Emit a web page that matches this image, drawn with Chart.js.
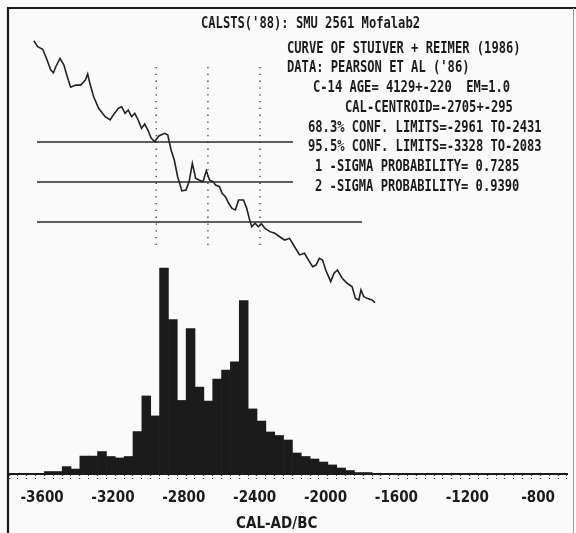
<!DOCTYPE html>
<html><head><meta charset="utf-8">
<script src="https://cdn.jsdelivr.net/npm/chart.js@4.4.1/dist/chart.umd.min.js"></script>
<style>html,body{margin:0;padding:0;background:#fafafa;}canvas{display:block;}</style>
</head><body>
<canvas id="c" width="576" height="533"></canvas>
<script>
// ---- data ----
// calibrated-age histogram (50-year bins, centres in years AD/BC, relative probability, peak = 100)
const binCenters = [-3625,-3575,-3525,-3475,-3425,-3375,-3325,-3275,-3225,-3175,-3125,-3075,-3025,-2975,-2925,-2875,-2825,-2775,-2725,-2675,-2625,-2575,-2525,-2475,-2425,-2375,-2325,-2275,-2225,-2175,-2125,-2075,-2025,-1975,-1925,-1875,-1825,-1775];
const probability = [0.2,1.2,1.2,3.6,2.4,8.7,8.7,10.9,8.5,7.8,8.5,20.6,37.9,28.2,100,75,35.7,70.6,42.2,35.4,46.1,50.5,54.4,84.2,31.6,25.7,20.4,18.7,16.5,10.2,8.5,7.3,5.8,4.4,2.9,1.7,0.7,0.7];
// calibration curve (cal year, C-14 age BP)
const curveCal = [-3660,-3638,-3610,-3592,-3564,-3549,-3536,-3512,-3490,-3471,-3452,-3424,-3396,-3369,-3356,-3341,-3322,-3294,-3257,-3229,-3211,-3183,-3164,-3145,-3127,-3108,-3090,-3071,-3052,-3034,-3016,-2997,-2978,-2954,-2922,-2904,-2885,-2867,-2848,-2824,-2801,-2783,-2765,-2746,-2727,-2705,-2686,-2668,-2649,-2634,-2612,-2597,-2578,-2560,-2541,-2522,-2504,-2476,-2458,-2444,-2430,-2411,-2393,-2374,-2355,-2327,-2299,-2272,-2244,-2216,-2188,-2160,-2132,-2104,-2086,-2067,-2048,-2030,-2012,-1984,-1965,-1946,-1919,-1891,-1863,-1844,-1825,-1813,-1797,-1779,-1751,-1733];
const curveAge = [4906,4873,4859,4818,4745,4730,4763,4809,4772,4708,4650,4662,4662,4690,4723,4662,4598,4534,4488,4470,4498,4534,4543,4507,4525,4488,4507,4470,4424,4448,4415,4369,4351,4382,4397,4388,4305,4250,4158,4080,4085,4131,4232,4149,4140,4131,4191,4140,4131,4112,4103,4067,4048,4012,3984,3975,4030,4030,3984,3929,3883,3902,3883,3898,3874,3856,3847,3828,3810,3819,3773,3728,3737,3691,3663,3672,3709,3700,3645,3581,3627,3645,3599,3572,3553,3489,3480,3535,3498,3489,3480,3465];
// measured C-14 age +/- sigma: horizontal reference lines
const levelAges = [4349, 4129, 3909];
const levelStart = [-3642, -3642, -3642];
const levelEnd = [-2197, -2197, -1807];
// dotted intercept markers (cal years) and their age extent
const interceptCal = [-2969, -2677, -2383];
const interceptAgeRange = [3782, 4772];
// axis
const xRange = [-3800, -645];
const tickStep = 50;
const tickLabels = [-3600, -3200, -2800, -2400, -2000, -1600, -1200, -800];
const axisTitle = 'CAL-AD/BC';
const infoLines = [
  "CALSTS('88): SMU 2561 Mofalab2",
  "CURVE OF STUIVER + REIMER (1986)",
  "DATA: PEARSON ET AL ('86)",
  "C-14 AGE= 4129+-220  EM=1.0",
  "CAL-CENTROID=-2705+-295",
  "68.3% CONF. LIMITS=-2961 TO-2431",
  "95.5% CONF. LIMITS=-3328 TO-2083",
  "1 -SIGMA PROBABILITY= 0.7285",
  "2 -SIGMA PROBABILITY= 0.9390"
];

// ---- chart ----
const INK = '#1b1b1b';
const AXIS_FONT = "'Liberation Sans Narrow', 'DejaVu Sans Condensed', 'Arial Narrow', sans-serif";
const datasets = [];
datasets.push({
  type: 'line', label: 'curve', xAxisID: 'x', yAxisID: 'y2',
  data: curveCal.map((c, i) => ({x: c, y: curveAge[i]})),
  borderColor: '#222', borderWidth: 1.6, pointRadius: 0, tension: 0, fill: false
});
levelAges.forEach((a, i) => datasets.push({
  type: 'line', label: 'level' + i, xAxisID: 'x', yAxisID: 'y2',
  data: [{x: levelStart[i], y: a}, {x: levelEnd[i], y: a}],
  borderColor: '#2a2a2a', borderWidth: 1.4, pointRadius: 0, fill: false
}));
interceptCal.forEach((c, i) => datasets.push({
  type: 'line', label: 'intercept' + i, xAxisID: 'x', yAxisID: 'y2',
  data: [{x: c, y: interceptAgeRange[0]}, {x: c, y: interceptAgeRange[1]}],
  borderColor: '#333', borderWidth: 1.3, borderDash: [1.3, 5.5], pointRadius: 0, fill: false
}));
datasets.push({
  type: 'bar', label: 'probability', xAxisID: 'x', yAxisID: 'y',
  data: binCenters.map((c, i) => ({x: c, y: probability[i]})),
  backgroundColor: INK, borderWidth: 0, barPercentage: 1, categoryPercentage: 1
});

const decor = {
  id: 'decor',
  beforeDraw(chart) {
    const ctx = chart.ctx;
    ctx.save();
    ctx.fillStyle = '#fafafa';
    ctx.fillRect(0, 0, chart.width, chart.height);
    ctx.restore();
  },
  afterDraw(chart) {
    const ctx = chart.ctx;
    ctx.save();
    // frame
    ctx.strokeStyle = INK; ctx.lineWidth = 2.2;
    ctx.beginPath(); ctx.moveTo(8, 533); ctx.lineTo(8, 8); ctx.lineTo(576, 8); ctx.stroke();
    ctx.strokeStyle = '#9a9a9a'; ctx.lineWidth = 1;
    ctx.beginPath(); ctx.moveTo(573.5, 8); ctx.lineTo(573.5, 533); ctx.stroke();
    // info text
    const xs = [201, 287, 287, 313, 345, 308, 308, 315, 315];
    const ys = [24, 48.5, 68, 88, 108, 127.5, 147, 167, 186.5];
    ctx.fillStyle = INK; ctx.textAlign = 'left'; ctx.textBaseline = 'middle';
    ctx.font = 'bold 16px "DejaVu Sans Mono", "Liberation Mono", monospace';
    infoLines.forEach((t, i) => ctx.fillText(t, xs[i], ys[i], t.length * 7.3));
    ctx.restore();
  }
};

new Chart(document.getElementById('c'), {
  type: 'bar',
  data: {datasets},
  options: {
    responsive: false, animation: false, devicePixelRatio: 1,
    layout: {padding: {left: 8, right: 3, top: 8, bottom: 0}},
    plugins: {legend: {display: false}, tooltip: {enabled: false}},
    scales: {
      x: {
        type: 'linear', position: 'bottom', min: xRange[0], max: xRange[1], offset: false,
        afterFit: s => { s.height = 59; },
        border: {display: true, color: INK, width: 2},
        grid: {offset: false, drawOnChartArea: false, drawTicks: true, tickLength: 6,
               tickColor: '#444', tickWidth: c => (c.tick && c.tick.value % 100 === 0) ? 1.4 : 1, tickBorderDash: [1, 2]},
        ticks: {stepSize: tickStep, autoSkip: false, maxRotation: 0, minRotation: 0, includeBounds: false, maxTicksLimit: 200,
                padding: 9, color: INK,
                font: {family: AXIS_FONT, size: 15, weight: 'bold'},
                callback: v => tickLabels.includes(v) ? String(v) + ' ' : ''},
        title: {display: true, text: axisTitle + '     ', color: INK, padding: {top: 0, bottom: 0},
                font: {family: AXIS_FONT, size: 15, weight: 'bold'}}
      },
      y: {display: false, min: 0, max: 226.2},
      y2: {display: false, min: 2523, max: 5086}
    }
  },
  plugins: [decor]
});
</script>
</body></html>
